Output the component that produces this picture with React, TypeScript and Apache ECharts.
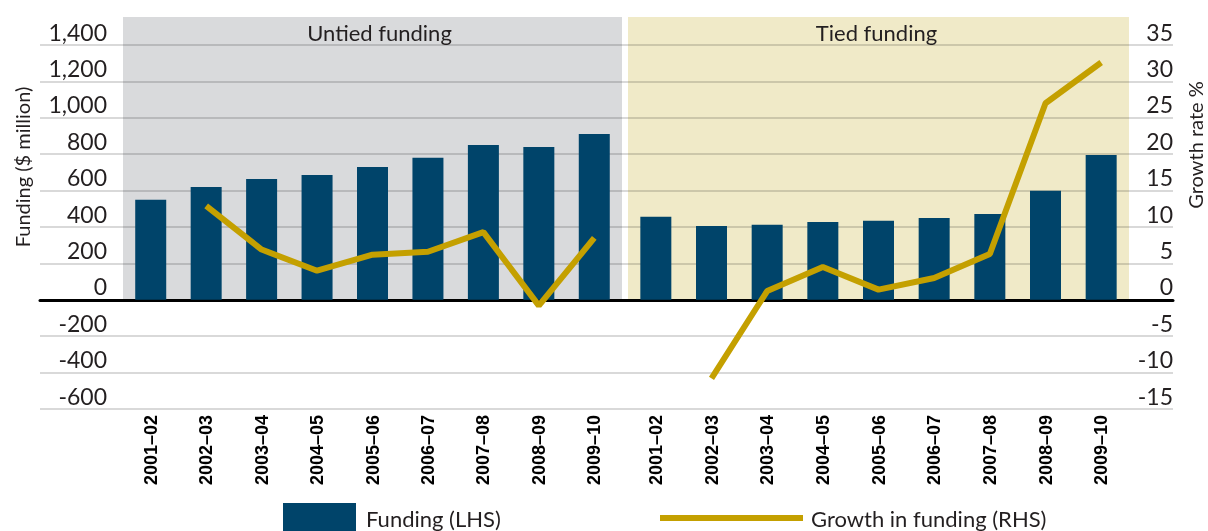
import React, { useEffect, useRef } from 'react';
import * as echarts from 'echarts';

const categories = ['2001–02', '2002–03', '2003–04', '2004–05', '2005–06', '2006–07', '2007–08', '2008–09', '2009–10'];
const untiedFunding = [550, 620, 664, 686, 730, 780, 851, 840, 911];
const tiedFunding = [456, 406, 412, 428, 434, 450, 472, 599, 796];
const untiedGrowth = [null, 12.9, 6.9, 4.0, 6.2, 6.6, 9.3, -0.8, 8.5];
const tiedGrowth = [null, -10.8, 1.2, 4.5, 1.4, 3.0, 6.3, 27.0, 32.6];
const groupTitles = ['Untied funding', 'Tied funding'];
const leftAxisRange = { min: -600, max: 1400, interval: 200 };
const rightAxisRange = { min: -15, max: 35, interval: 5 };
const leftAxisName = 'Funding ($ million)';
const rightAxisName = 'Growth rate %';
const barName = 'Funding (LHS)';
const lineName = 'Growth in funding (RHS)';

const FONT = 'Lato, "Open Sans", sans-serif';
const TEXT = '#231f20';
const BAR = '#00446a';
const LINE = '#c4a000';

export default function App() {
  const ref = useRef<HTMLDivElement>(null);
  useEffect(() => {
    const chart = echarts.init(ref.current!, null, { renderer: 'svg' });
    const TOP = 45;
    const BOTTOM = 122;
    const g1 = { left: 123, width: 499 };
    const g2 = { left: 628, width: 501 };
    const hiddenY = (gridIndex: number, r: any) => ({
      type: 'value', gridIndex, min: r.min, max: r.max, interval: r.interval, show: false,
      splitLine: { show: false },
    });
    const catAxis = (gridIndex: number) => ({
      type: 'category', gridIndex, data: categories, position: 'bottom',
      axisLine: { show: false, onZero: false }, axisTick: { show: false },
      axisLabel: {
        rotate: 90, margin: 6, fontFamily: '"Liberation Sans", Arial, sans-serif',
        fontWeight: 'bold', fontSize: 18, color: '#000', interval: 0,
      },
      splitLine: { show: false },
    });
    const labelStyle = { fontFamily: FONT, fontSize: 22, color: TEXT };
    const tickStyle = { fontFamily: FONT, fontSize: 23, color: TEXT };
    chart.setOption({
      animation: false,
      grid: [
        { left: 40, right: 35, top: TOP, bottom: BOTTOM },
        { left: g1.left, width: g1.width, top: TOP, bottom: BOTTOM },
        { left: g2.left, width: g2.width, top: TOP, bottom: BOTTOM },
      ],
      xAxis: [
        {
          type: 'value', gridIndex: 0, min: 0, max: 1,
          axisLine: { show: true, onZero: true, lineStyle: { color: '#000', width: 3 } },
          axisTick: { show: false }, axisLabel: { show: false }, splitLine: { show: false },
        },
        catAxis(1),
        catAxis(2),
      ],
      yAxis: [
        {
          type: 'value', gridIndex: 0, position: 'left', ...leftAxisRange,
          axisLine: { show: false }, axisTick: { show: false },
          axisLabel: {
            inside: true, margin: 67, align: 'right', verticalAlign: 'bottom', padding: [0, 0, 2, 0],
            ...tickStyle,
            formatter: (v: number) => v.toLocaleString('en-US'),
          },
          splitLine: { show: true, lineStyle: { color: 'rgba(0,0,0,0.2)', width: 1.5 } },
        },
        {
          type: 'value', gridIndex: 0, position: 'right', ...rightAxisRange,
          axisLine: { show: false }, axisTick: { show: false },
          axisLabel: {
            inside: true, margin: 0, align: 'right', verticalAlign: 'bottom', padding: [0, 0, 2, 0],
            ...tickStyle,
          },
          splitLine: { show: false },
        },
        hiddenY(1, leftAxisRange),
        hiddenY(1, rightAxisRange),
        hiddenY(2, leftAxisRange),
        hiddenY(2, rightAxisRange),
      ],
      legend: [
        {
          data: [barName], left: 283, top: 503, padding: 0, icon: 'rect',
          itemWidth: 73, itemHeight: 30, selectedMode: false,
          textStyle: { ...labelStyle, padding: [0, 0, 0, 5] },
        },
        {
          data: [lineName], left: 660, top: 507, padding: 0, icon: 'rect',
          itemWidth: 143, itemHeight: 6, selectedMode: false,
          textStyle: { ...labelStyle, padding: [0, 0, 0, 3] },
        },
      ],
      series: [
        {
          name: barName, type: 'bar', xAxisIndex: 1, yAxisIndex: 2, data: untiedFunding,
          barWidth: 31, itemStyle: { color: BAR },
        },
        {
          name: barName, type: 'bar', xAxisIndex: 2, yAxisIndex: 4, data: tiedFunding,
          barWidth: 31, itemStyle: { color: BAR },
        },
        {
          name: lineName, type: 'line', xAxisIndex: 1, yAxisIndex: 3, data: untiedGrowth,
          symbol: 'none', lineStyle: { color: LINE, width: 6 }, itemStyle: { color: LINE }, z: 5,
        },
        {
          name: lineName, type: 'line', xAxisIndex: 2, yAxisIndex: 5, data: tiedGrowth,
          symbol: 'none', lineStyle: { color: LINE, width: 6 }, itemStyle: { color: LINE }, z: 5,
        },
      ],
    });
    const y0 = chart.convertToPixel({ yAxisIndex: 0 }, 0) as number;
    const bandTop = 17;
    chart.setOption({
      graphic: [
        { type: 'rect', z: -10, shape: { x: g1.left, y: bandTop, width: g1.width, height: y0 - bandTop }, style: { fill: '#d9dadc' } },
        { type: 'rect', z: -10, shape: { x: g2.left, y: bandTop, width: g2.width, height: y0 - bandTop }, style: { fill: '#f0eac8' } },
        {
          type: 'text', x: g1.left + g1.width / 2 + 7, y: 32,
          style: { text: groupTitles[0], align: 'center', verticalAlign: 'middle', font: `22px ${FONT}`, fill: TEXT },
        },
        {
          type: 'text', x: g2.left + g2.width / 2 - 2, y: 32,
          style: { text: groupTitles[1], align: 'center', verticalAlign: 'middle', font: `22px ${FONT}`, fill: TEXT },
        },
        {
          type: 'text', x: 22, y: 167, rotation: Math.PI / 2,
          style: { text: leftAxisName, align: 'center', verticalAlign: 'middle', font: `20px ${FONT}`, fill: TEXT },
        },
        {
          type: 'text', x: 1195, y: 145, rotation: Math.PI / 2,
          style: { text: rightAxisName, align: 'center', verticalAlign: 'middle', font: `20px ${FONT}`, fill: TEXT },
        },
      ],
    });
    return () => chart.dispose();
  }, []);
  return <div ref={ref} style={{ position: 'fixed', left: 0, top: 0, width: 1208, height: 531 }} />;
}
